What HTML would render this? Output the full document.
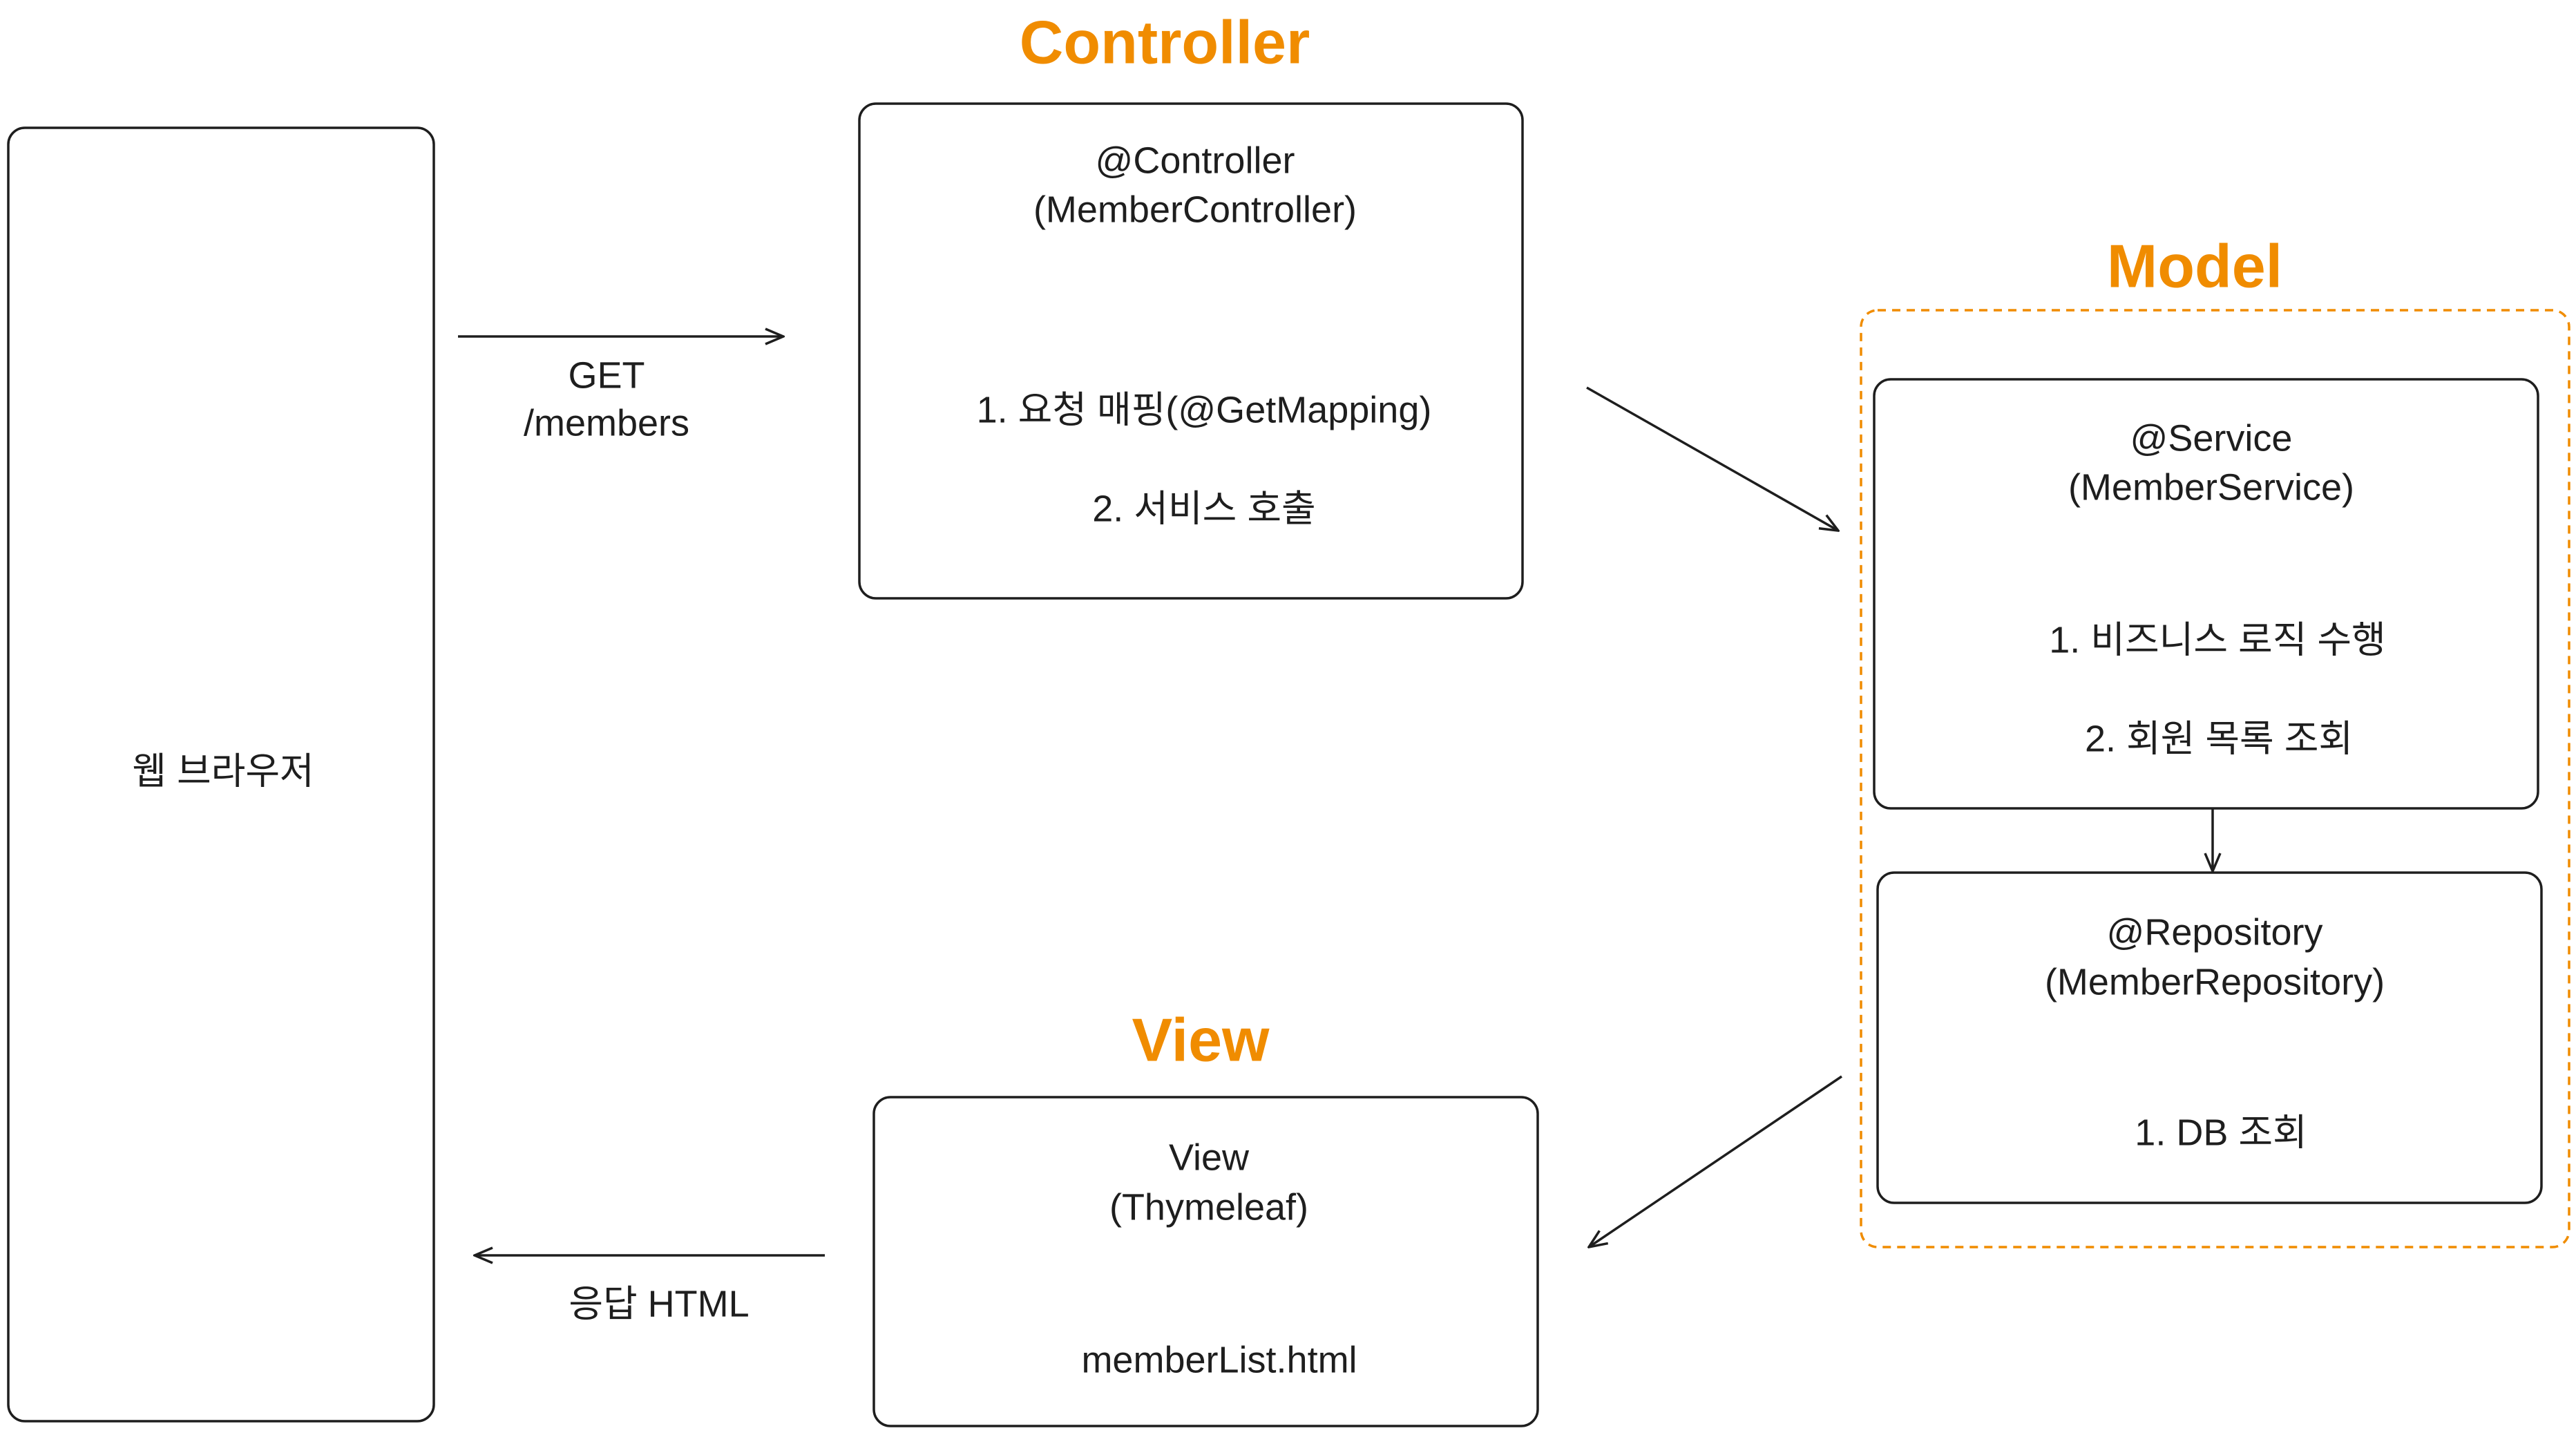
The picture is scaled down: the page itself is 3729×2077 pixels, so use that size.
<!DOCTYPE html>
<html><head><meta charset="utf-8"><style>
html,body{margin:0;padding:0;background:#fff;}
svg{display:block;}
text{font-family:"Liberation Sans","Noto Sans CJK KR",sans-serif;fill:#1e1e1e;text-anchor:middle;dominant-baseline:middle;font-size:54px;}
.t{fill:#f08c00;font-size:88px;font-weight:bold;}
</style></head><body>
<svg width="3729" height="2077" viewBox="0 0 3729 2077" xmlns="http://www.w3.org/2000/svg">
<defs>
<marker id="b" viewBox="0 0 30 30" markerWidth="30" markerHeight="30" refX="28" refY="15" orient="auto" markerUnits="userSpaceOnUse"><path d="M2,4 L28,15 L2,26" fill="none" stroke="#1e1e1e" stroke-width="3.5"/></marker></defs>
<g fill="none" stroke="#1e1e1e" stroke-width="3.5">
<rect x="12" y="185" width="616" height="1872" rx="24"/>
<rect x="1244" y="150" width="960" height="716" rx="24"/>
<rect x="2694" y="449" width="1025" height="1356" rx="24" stroke="#f08c00" stroke-dasharray="12 9"/>
<rect x="2713" y="549" width="961" height="621" rx="24"/>
<rect x="2718" y="1263" width="961" height="478" rx="24"/>
<rect x="1265" y="1588" width="961" height="476" rx="24"/>
<line x1="663" y1="487" x2="1134" y2="487" marker-end="url(#b)"/>
<line x1="2297" y1="561" x2="2661" y2="768" marker-end="url(#b)"/>
<line x1="3203" y1="1170" x2="3203" y2="1261" marker-end="url(#b)"/>
<line x1="2666" y1="1558" x2="2300" y2="1805" marker-end="url(#b)"/>
<line x1="1194" y1="1817" x2="687" y2="1817" marker-end="url(#b)"/>
</g>
<text class="t" x="1686" y="68">Controller</text>
<text class="t" x="3177" y="392">Model</text>
<text class="t" x="1738" y="1512">View</text>
<text x="878" y="547">GET</text>
<text x="878" y="616">/members</text>
<text x="954" y="1891">응답 HTML</text>
<text x="323" y="1120">웹 브라우저</text>
<text x="1730" y="236">@Controller</text>
<text x="1730" y="307">(MemberController)</text>
<text x="1743" y="597">1. 요청 매핑(@GetMapping)</text>
<text x="1743" y="740">2. 서비스 호출</text>
<text x="3201" y="638">@Service</text>
<text x="3201" y="709">(MemberService)</text>
<text x="3210" y="930">1. 비즈니스 로직 수행</text>
<text x="3212" y="1073">2. 회원 목록 조회</text>
<text x="3206" y="1353">@Repository</text>
<text x="3206" y="1425">(MemberRepository)</text>
<text x="3215" y="1643">1. DB 조회</text>
<text x="1750" y="1679">View</text>
<text x="1750" y="1751">(Thymeleaf)</text>
<text x="1765" y="1972">memberList.html</text>
</svg>
</body></html>
